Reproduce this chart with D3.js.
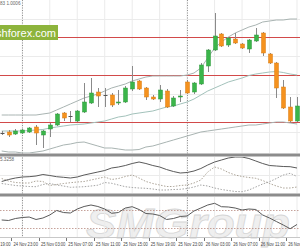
<!DOCTYPE html>
<html>
<head>
<meta charset="utf-8">
<script src="https://cdn.jsdelivr.net/npm/d3@7"></script>
<style>
    html, body { margin: 0; padding: 0; background: #fff; }
    svg { display: block; font-family: "Liberation Sans", Arial, sans-serif; }
</style>
</head>
<body>
<svg id="svg" width="300" height="250"></svg>
<script>
// H1 candles, oldest first
var opens  = [0.9967,0.9968,0.9966,0.9967,0.9968,0.9973,0.9965,0.9971,0.9975,0.9987,0.9984,0.9979,0.9988,0.9997,1.0008,1.0005,1.0005,0.9997,0.9998,1.0011,1.0019,1.0012,1.0003,1.0001,1.0009,0.9994,1.0003,1.0018,1.0008,1.0016,1.0034,1.0050,1.0066,1.0055,1.0061,1.0056,1.0051,1.0059,1.0067,1.0046,1.0037,1.0013,0.9993,0.9979];
var highs  = [0.9969,0.9970,0.9971,0.9971,0.9973,0.9975,0.9970,0.9977,0.9987,0.9988,0.9989,0.9990,1.0017,1.0022,1.0012,1.0012,1.0007,1.0010,1.0014,1.0034,1.0020,1.0013,1.0005,1.0015,1.0011,1.0004,1.0010,1.0020,1.0018,1.0037,1.0051,1.0087,1.0067,1.0063,1.0067,1.0057,1.0061,1.0072,1.0068,1.0047,1.0038,1.0020,1.0003,1.0003];
var lows   = [0.9965,0.9963,0.9965,0.9966,0.9967,0.9955,0.9952,0.9963,0.9974,0.9979,0.9978,0.9978,0.9987,0.9996,0.9993,0.9993,0.9993,0.9995,0.9997,1.0009,1.0010,1.0000,1.0000,0.9998,0.9992,0.9993,0.9998,1.0006,1.0006,1.0015,1.0028,1.0049,1.0053,1.0053,1.0056,1.0051,1.0047,1.0058,1.0044,1.0036,1.0002,0.9991,0.9977,0.9978];
var closes = [0.9967,0.9965,0.9969,0.9970,0.9972,0.9967,0.9969,0.9975,0.9986,0.9982,0.9984,0.9989,0.9998,1.0007,1.0004,1.0005,0.9995,0.9998,1.0012,1.0018,1.0011,1.0003,1.0001,1.0010,0.9993,1.0002,1.0004,1.0007,1.0017,1.0035,1.0050,1.0064,1.0054,1.0062,1.0057,1.0052,1.0060,1.0065,1.0047,1.0037,1.0012,0.9992,0.9979,0.9994];

// bollinger bands
var bandUpper = [0.9985,0.9985,0.9985,0.9985,0.9985,0.9985,0.9986,0.9987,0.9990,0.9993,0.9996,0.9999,1.0002,1.0004,1.0006,1.0009,1.0012,1.0014,1.0016,1.0019,1.0021,1.0023,1.0024,1.0024,1.0024,1.0024,1.0024,1.0025,1.0027,1.0032,1.0042,1.0052,1.0058,1.0063,1.0067,1.0070,1.0073,1.0075,1.0078,1.0079,1.0080,1.0080,1.0081,1.0081];
var bandMiddle = [0.9969,0.9969,0.9969,0.9969,0.99695,0.9970,0.99705,0.9972,0.9973,0.9974,0.9975,0.99755,0.9976,0.9977,0.9978,0.9979,0.9981,0.9983,0.9984,0.9986,0.9987,0.9988,0.9989,0.9991,0.9993,0.9994,0.9996,0.9998,1.0001,1.0005,1.0009,1.0012,1.0015,1.0018,1.0020,1.0022,1.00245,1.0026,1.0027,1.0028,1.00285,1.00275,1.0026,1.0025];
var bandLower = [0.9949,0.9948,0.9948,0.9947,0.9947,0.9948,0.9949,0.9951,0.9953,0.9955,0.9956,0.99575,0.9958,0.9956,0.9954,0.9952,0.9952,0.9951,0.9950,0.9950,0.99505,0.9953,0.9954,0.9956,0.9958,0.9960,0.9962,0.9964,0.9966,0.9968,0.9969,0.9970,0.9971,0.9972,0.9973,0.9974,0.9975,0.9975,0.9976,0.9977,0.9978,0.9978,0.9977,0.9976];

var levels = [1.0063, 1.0025, 0.9978];

// ADX panel
var adx     = [11.5,13.5,15,16,16.3,17,18.5,17.5,16.3,15.7,15,16,18,19.5,21,22.5,25,26,27.5,29.5,31,29.5,27.5,26,23.5,21.5,20,20.5,22,24.5,28,31,33,35,36,36,34.5,32,29.5,27.5,27,26.5,26.3,25];
var plusDI  = [14.5,12,10.5,10,10,12,11.5,7.5,8.5,9.5,10.3,11,11.5,13,14.5,16,13.5,14.5,16.5,18,15,11.5,9.5,8,6.5,6.5,7.5,8,10,13,21,26,24,20.5,18,16.5,15.5,14.7,12.5,9.5,7,5,5,6];
var minusDI = [9.5,8.5,7.5,7,6.5,6.3,8.5,9.5,8,7,5.7,6,6.3,7,7.8,10.5,9.7,8,6.3,5.5,5,4.7,4,3,3,3.5,3.7,4.5,6,8,7,5,3.5,2.5,1.5,1.3,3,6,9,11.3,14.5,18,19.7,16.5];

// RSI panel
var rsi = [47.8,46.7,51.1,53.3,54.4,48.9,52.2,58.9,68.9,64.4,63.3,72.2,77.8,81.1,77.8,72.2,62.7,64.4,74.4,77.3,71.1,62.2,61.1,57.8,48.9,51.1,55.6,56.7,67.8,74.4,81.1,84.9,77.3,76.7,74.4,70.0,72.2,71.1,58.9,52.2,44.4,36.7,28.4,37.8];
var rsiLevels = [70, 30];

var timeTicks = [-2, 2, 6, 10, 14, 18, 22, 26, 30, 34, 38, 42];
var timeLabels = ["24 Nov 19:00","24 Nov 23:00","25 Nov 03:00","25 Nov 07:00","25 Nov 11:00","25 Nov 15:00",
                  "25 Nov 19:00","25 Nov 23:00","26 Nov 03:00","26 Nov 07:00","26 Nov 11:00","26 Nov 15:00"];
var daySeparators = [3, 27];

var svg = d3.select("svg");
var width = +svg.attr("width");

var x = d3.scaleLinear().domain([0, 43]).range([1.7, 297]);
var yMain = d3.scaleLinear().domain([0.9947, 1.0100]).range([153, 0]);
var yAdx = d3.scaleLinear().domain([0, 36]).range([193, 157]);
var yRsi = d3.scaleLinear().domain([0, 100]).range([241.5, 196.5]);

var panels = [
    {id: "pMain", top: 0, bottom: 153},
    {id: "pAdx", top: 157, bottom: 193},
    {id: "pRsi", top: 197, bottom: 237}
];

var defs = svg.append("defs");
panels.forEach(function (p) {
    defs.append("clipPath").attr("id", p.id)
        .append("rect").attr("x", 0).attr("y", p.top).attr("width", width).attr("height", p.bottom - p.top);
});

// watermark
svg.append("text")
    .attr("x", 86).attr("y", 238)
    .attr("font-size", 42)
    .attr("font-style", "italic")
    .attr("font-weight", "bold")
    .attr("textLength", 204)
    .attr("lengthAdjust", "spacingAndGlyphs")
    .attr("fill", "#efefef")
    .attr("stroke", "#d6d6d6")
    .attr("stroke-width", 0.8)
    .text("SMGroup");

// grid
var gridIdx = d3.range(3, 44, 4);
panels.forEach(function (p) {
    var g = svg.append("g");
    g.selectAll("line").data(gridIdx).enter().append("line")
        .attr("x1", function (d) { return x(d); })
        .attr("x2", function (d) { return x(d); })
        .attr("y1", p.top).attr("y2", p.bottom)
        .attr("stroke", "#ebebeb").attr("stroke-width", 1);
});
svg.append("g").selectAll("line").data([1.0081, 1.0044, 1.0006, 0.9968]).enter().append("line")
    .attr("x1", 0).attr("x2", width)
    .attr("y1", function (d) { return Math.round(yMain(d)) + 0.5; })
    .attr("y2", function (d) { return Math.round(yMain(d)) + 0.5; })
    .attr("stroke", "#ebebeb");
svg.append("line").attr("x1", 0).attr("x2", width).attr("y1", 175.5).attr("y2", 175.5).attr("stroke", "#ebebeb");

// day separators
svg.append("g").selectAll("line").data(daySeparators).enter().append("line")
    .attr("x1", function (d) { return Math.round(x(d)) + 0.5; })
    .attr("x2", function (d) { return Math.round(x(d)) + 0.5; })
    .attr("y1", 0).attr("y2", 237)
    .attr("stroke", "#777").attr("stroke-width", 0.8)
    .attr("stroke-dasharray", "1,1.5");

// support / resistance
svg.append("g").selectAll("line").data(levels).enter().append("line")
    .attr("x1", 0).attr("x2", width)
    .attr("y1", function (d) { return Math.round(yMain(d)) + 0.5; })
    .attr("y2", function (d) { return Math.round(yMain(d)) + 0.5; })
    .attr("stroke", "#d24a4a").attr("stroke-width", 1);

// bands
var main = svg.append("g").attr("clip-path", "url(#pMain)");
var bandLine = d3.line().x(function (d, i) { return x(i); }).y(function (d) { return yMain(d); });
[[bandUpper, "#a9b4b2"], [bandMiddle, "#a3c2bb"], [bandLower, "#a9b4b2"]].forEach(function (b) {
    main.append("path").datum(b[0])
        .attr("d", bandLine)
        .attr("fill", "none")
        .attr("stroke", b[1])
        .attr("stroke-width", 1);
});

// candles
var candles = opens.map(function (o, i) {
    return {i: i, o: o, h: highs[i], l: lows[i], c: closes[i]};
});
var cg = main.selectAll(".candle").data(candles).enter().append("g").attr("class", "candle");
cg.append("line")
    .attr("x1", function (d) { return Math.round(x(d.i)) + 0.5; })
    .attr("x2", function (d) { return Math.round(x(d.i)) + 0.5; })
    .attr("y1", function (d) { return yMain(d.h); })
    .attr("y2", function (d) { return yMain(d.l); })
    .attr("stroke", "#8a8a8a").attr("stroke-width", 1);
cg.append("rect")
    .attr("x", function (d) { return Math.round(x(d.i)) - 1.5; })
    .attr("width", 4)
    .attr("y", function (d) { return yMain(Math.max(d.o, d.c)); })
    .attr("height", function (d) { return Math.max(1, Math.abs(yMain(d.o) - yMain(d.c))); })
    .attr("fill", function (d) {
        if (d.o === d.c) return "#555";
        return d.c > d.o ? "#3bb54a" : "#f5921e";
    })
    .attr("stroke", function (d) {
        if (d.o === d.c) return "none";
        return d.c > d.o ? "#2f9a3c" : "#d97c12";
    })
    .attr("stroke-width", 0.5);

// ADX lines
var adxG = svg.append("g").attr("clip-path", "url(#pAdx)");
var adxLine = d3.line().x(function (d, i) { return x(i); }).y(function (d) { return yAdx(d); });
adxG.append("path").datum(plusDI).attr("d", adxLine)
    .attr("fill", "none").attr("stroke", "#a39a8c").attr("stroke-width", 0.9).attr("stroke-dasharray", "1.5,1.5");
adxG.append("path").datum(minusDI).attr("d", adxLine)
    .attr("fill", "none").attr("stroke", "#9a9a9a").attr("stroke-width", 0.9).attr("stroke-dasharray", "1.5,1.5");
adxG.append("path").datum(adx).attr("d", adxLine)
    .attr("fill", "none").attr("stroke", "#5a5a5a").attr("stroke-width", 1);

// RSI
var rsiG = svg.append("g").attr("clip-path", "url(#pRsi)");
rsiG.selectAll("line").data(rsiLevels).enter().append("line")
    .attr("x1", 0).attr("x2", width)
    .attr("y1", function (d) { return Math.round(yRsi(d)) + 0.5; })
    .attr("y2", function (d) { return Math.round(yRsi(d)) + 0.5; })
    .attr("stroke", "#b88a80").attr("stroke-width", 0.8).attr("stroke-dasharray", "1.5,1.5");
rsiG.append("path").datum(rsi)
    .attr("d", d3.line().x(function (d, i) { return x(i); }).y(function (d) { return yRsi(d); }))
    .attr("fill", "none").attr("stroke", "#5a5a5a").attr("stroke-width", 1);

// panel separators
[153, 193].forEach(function (yy) {
    svg.append("rect").attr("x", 0).attr("y", yy + 0.5).attr("width", width).attr("height", 3)
        .attr("fill", "#8c8c8c");
});
svg.append("line").attr("x1", 0).attr("x2", width).attr("y1", 237.5).attr("y2", 237.5)
    .attr("stroke", "#c8c8c8");

// time axis
var axis = svg.append("g");
axis.selectAll("line").data(timeTicks).enter().append("line")
    .attr("x1", function (d) { return Math.round(x(d)) - 3.5; })
    .attr("x2", function (d) { return Math.round(x(d)) - 3.5; })
    .attr("y1", 238).attr("y2", 241)
    .attr("stroke", "#777");
axis.selectAll("text").data(timeTicks).enter().append("text")
    .attr("x", function (d) { return x(d) - 2; })
    .attr("y", 246)
    .attr("font-size", 4.6)
    .attr("textLength", 24.5)
    .attr("lengthAdjust", "spacingAndGlyphs")
    .attr("fill", "#444")
    .text(function (d, i) { return timeLabels[i]; });

// labels
svg.append("text").attr("x", 0).attr("y", 5).attr("font-size", 4.6).attr("fill", "#666").text("83 1.0006");
svg.append("text").attr("x", 0).attr("y", 161).attr("font-size", 4.6).attr("fill", "#666").text("5.3258");

svg.append("rect").attr("x", 0).attr("y", 25).attr("width", 58).attr("height", 15).attr("fill", "#8db43c");
svg.append("text").attr("x", 56).attr("y", 36.5)
    .attr("text-anchor", "end")
    .attr("font-size", 11)
    .attr("fill", "#fff")
    .text("shforex.com");
</script>
</body>
</html>
